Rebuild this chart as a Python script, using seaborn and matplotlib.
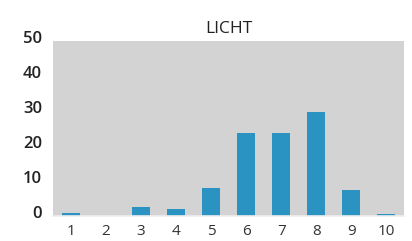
import matplotlib
matplotlib.use("Agg")
import matplotlib.pyplot as plt
import matplotlib.transforms as mtransforms
import seaborn as sns
import pandas as pd

# Data
categories = ["1", "2", "3", "4", "5", "6", "7", "8", "9", "10"]
values = [1.0, 0.0, 2.6, 2.0, 8.0, 23.7, 23.7, 29.6, 7.4, 0.6]
yticks = [0, 10, 20, 30, 40, 50]

df = pd.DataFrame({"cat": categories, "val": values})

sns.set_style("white")
plt.rcParams["font.family"] = ["Open Sans", "DejaVu Sans"]

fig = plt.figure(figsize=(4.12, 2.41), dpi=100)
ax = fig.add_axes([53 / 412, 25 / 241, 351 / 412, 175 / 241])
ax.set_facecolor("#d3d3d3")

sns.barplot(data=df, x="cat", y="val", color="#2a93c1", width=0.51,
            saturation=1, edgecolor="none", linewidth=0, ax=ax)

ax.set_xlim(-0.5, 9.5)
ax.set_ylim(0, 50)
ax.set_yticks(yticks)
ax.set_xlabel("")
ax.set_ylabel("")
ax.set_title("LICHT", fontsize=12.5, color="#222222", pad=6)

for s in ["top", "right", "left"]:
    ax.spines[s].set_visible(False)
ax.spines["bottom"].set_color("#eeeeee")
ax.spines["bottom"].set_linewidth(1.2)

ax.tick_params(axis="both", length=0)
ax.tick_params(axis="y", pad=8, labelsize=12, labelcolor="#222222")
ax.tick_params(axis="x", pad=6, labelsize=11, labelcolor="#333333")
for lbl in ax.get_yticklabels():
    lbl.set_fontweight("semibold")
    lbl.set_transform(lbl.get_transform() +
                      mtransforms.ScaledTranslation(0, 4 / 100, fig.dpi_scale_trans))

fig.savefig("out.png", dpi=100)
